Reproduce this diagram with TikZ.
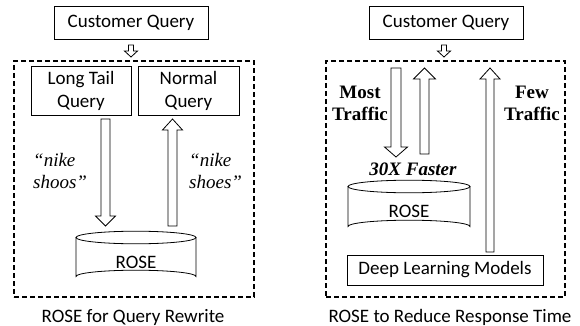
\documentclass[tikz,border=0pt]{standalone}
\usepackage{fontspec}
\setmainfont{Liberation Serif}
\newfontfamily\calib{Carlito}
\newcommand\barrow[6]{%
  \draw[blk] ({#1-#5},#2) -- ({#1+#5},#2) -- ({#1+#5},#3) -- ({#1+#6},#3) -- (#1,#4) -- ({#1-#6},#3) -- ({#1-#5},#3) -- cycle;}
\newcommand\cyl[5]{%
  \draw[blk] ({#1-#4},#2) -- ({#1-#4},#3) arc[start angle=180,end angle=360,x radius=#4,y radius=#5] -- ({#1+#4},#2);
  \draw[blk] (#1,#2) ellipse[x radius=#4,y radius=#5];}
\begin{document}
\begin{tikzpicture}[x=1pt,y=-1pt,
  blk/.style={draw,line width=0.8pt,fill=white},
  sans/.style={font=\calib\fontsize{19}{23}\selectfont},
  box/.style={draw,line width=0.8pt,inner sep=0pt,sans,align=center},
  dbox/.style={draw,line width=1.8pt,dash pattern=on 5pt off 3pt,inner sep=0pt},
  ital/.style={font=\itshape\fontsize{19}{22}\selectfont,align=left,inner sep=0pt},
  bold/.style={font=\bfseries\fontsize{19}{22}\selectfont,align=center,inner sep=0pt}]
\useasboundingbox (0,0) rectangle (580,326);
% ---------- left panel
\node[box,minimum width=154pt,minimum height=33pt] (cq1) at (131,22.5) {Customer Query};
\node[dbox,minimum width=240pt,minimum height=236pt] (dl) at (134,179) {};
\barrow{131}{45}{51}{57}{2.5}{6.5}
\node[box,minimum width=100pt,minimum height=49pt] (ltq) at (81,90.5) {Long Tail\\Query};
\node[box,minimum width=101pt,minimum height=49pt] (nq) at (188.5,90.5) {Normal\\Query};
\barrow{105.5}{119}{216}{226}{4.5}{10}
\barrow{172.5}{226}{130}{119}{4.5}{10}
\cyl{136}{237.5}{276.5}{60}{6.3}
\node[sans] (rose1) at (136,262) {ROSE};
\node[ital,anchor=west] (nk1) at (33,171) {“nike\\shoos”};
\node[ital,anchor=west] (nk2) at (189,171) {“nike\\shoes”};
\node[sans] (cap1) at (133,317) {ROSE for Query Rewrite};
% ---------- right panel
\node[box,minimum width=154pt,minimum height=33pt] (cq2) at (446,22.5) {Customer Query};
\node[dbox,minimum width=239pt,minimum height=236pt] (dr) at (445.5,179) {};
\barrow{444}{45}{51}{57}{2.5}{6.5}
\barrow{396}{68}{147}{157}{5}{11.5}
\barrow{424.5}{154}{79}{68}{4.5}{11}
\barrow{490}{252}{79}{68}{4}{10}
\node[bold] (mt) at (360,103) {Most\\Traffic};
\node[bold] (ft) at (532,103) {Few\\Traffic};
\node[font=\bfseries\itshape\fontsize{19}{22}\selectfont,inner sep=0pt] (fx) at (413,169) {30X Faster};
\cyl{409}{186.5}{226.5}{61}{6.3}
\node[sans] (rose2) at (409,211) {ROSE};
\node[box,minimum width=196pt,minimum height=30pt] (dlm) at (445,270) {Deep Learning Models};
\node[sans] (cap2) at (450,317) {ROSE to Reduce Response Time};
\end{tikzpicture}
\end{document}
